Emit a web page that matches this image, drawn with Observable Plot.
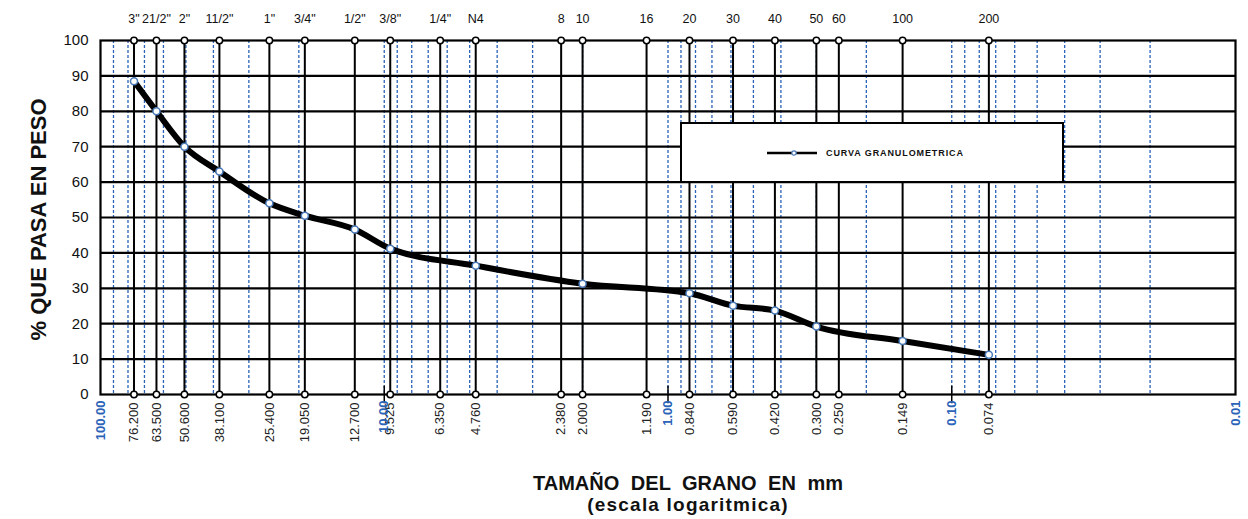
<!DOCTYPE html>
<html>
<head>
<meta charset="utf-8">
<script src="https://cdn.jsdelivr.net/npm/d3@7"></script>
<script src="https://cdn.jsdelivr.net/npm/@observablehq/plot@0.6"></script>
<style>
  html, body { margin: 0; padding: 0; background: #fff; }
  body { width: 1248px; height: 519px; overflow: hidden; font-family: "Liberation Sans", Arial, sans-serif; position: relative; }
  #chart { position: relative; }
  #legend {
    position: absolute; left: 680px; top: 122px; width: 380px; height: 57px;
    border: 2px solid #000; background: #fff; box-sizing: content-box;
  }
  #legend svg { position: absolute; left: 85px; top: 24px; }
  #legend span {
    position: absolute; left: 144px; top: 24px; font-size: 9px; font-weight: bold;
    letter-spacing: 0.9px; color: #111;
  }
  #xtitle { padding-left: 128px; text-align: center; font-weight: bold; color: #111; }
  #xtitle .t1 { font-size: 20px; word-spacing: 6px; line-height: 22px; margin-top: 12px; }
  #xtitle .t2 { font-size: 19px; letter-spacing: 1.2px; line-height: 22px; }
</style>
</head>
<body>
<div id="chart"></div>
<div id="xtitle"><div class="t1">TAMAÑO DEL GRANO EN mm</div><div class="t2">(escala logaritmica)</div></div>
<script>
// Sieve designations and openings (mm)
const sieveNames = ['3"', '21/2"', '2"', '11/2"', '1"', '3/4"', '1/2"', '3/8"', '1/4"', 'N4',
  '8', '10', '16', '20', '30', '40', '50', '60', '100', '200'];
const sieveSizes = [76.2, 63.5, 50.6, 38.1, 25.4, 19.05, 12.7, 9.525, 6.35, 4.76,
  2.38, 2.0, 1.19, 0.84, 0.59, 0.42, 0.30, 0.25, 0.149, 0.074];
const sieveLabels = ["76.200", "63.500", "50.600", "38.100", "25.400", "19.050", "12.700", "9.525", "6.350", "4.760",
  "2.380", "2.000", "1.190", "0.840", "0.590", "0.420", "0.300", "0.250", "0.149", "0.074"];

// Grading curve (size mm, % passing)
const curveSizes = [76.2, 63.5, 50.6, 38.1, 25.4, 19.05, 12.7, 9.525, 4.76, 2.0, 0.84, 0.59, 0.42, 0.30, 0.149, 0.074];
const curvePassing = [88.5, 80, 70, 63, 54, 50.5, 46.6, 41.2, 36.4, 31.3, 28.6, 25.1, 23.7, 19.2, 15.1, 11.2];

// Decade labels (blue)
const decadeValues = [100, 10, 1, 0.1, 0.01];
const decadeLabels = ["100.00", "10.00", "1.00", "0.10", "0.01"];

// Minor log grid values (blue dashed)
const minorGrid = [90, 80, 70, 60, 50, 40, 30, 20, 10, 9, 8, 7, 6, 5, 4, 3, 2, 1,
  0.9, 0.8, 0.7, 0.6, 0.5, 0.4, 0.3, 0.2, 0.1, 0.09, 0.08, 0.07, 0.06, 0.05, 0.04, 0.03, 0.02];

const yTicks = [0, 10, 20, 30, 40, 50, 60, 70, 80, 90, 100];
const yLabel = "% QUE PASA EN PESO";
const legendText = "CURVA GRANULOMETRICA";

const sieves = sieveSizes.map((s, i) => ({size: s, name: sieveNames[i], label: sieveLabels[i]}));
const curve = curveSizes.map((s, i) => ({size: s, pass: curvePassing[i]}));
const decades = decadeValues.map((v, i) => ({v, label: decadeLabels[i]}));

const blue = "#2a63b8";
const vtick = {draw(ctx, size) { const r = Math.sqrt(size); ctx.moveTo(0, -r); ctx.lineTo(0, r); }};

const chart = Plot.plot({
  width: 1248,
  height: 460,
  marginLeft: 100,
  marginRight: 13,
  marginTop: 40,
  marginBottom: 66,
  style: {fontFamily: "Liberation Sans, Arial, sans-serif", background: "#fff", color: "#111"},
  x: {type: "log", domain: [100, 0.01], axis: null},
  y: {domain: [0, 100], axis: null},
  marks: [
    Plot.ruleX(minorGrid, {stroke: blue, strokeWidth: 1.3, strokeDasharray: "3,2"}),
    Plot.ruleY(yTicks.slice(1, -1), {stroke: "#000", strokeWidth: 2.2}),
    Plot.ruleX(sieves, {x: "size", stroke: "#000", strokeWidth: 2}),
    Plot.frame({stroke: "#000", strokeWidth: 2.2}),
    Plot.axisY({ticks: yTicks, tickSize: 0, tickPadding: 12, fontSize: 15, label: null, tickFormat: d => d}),
    Plot.dot(decades.slice(1, -1), {x: "v", frameAnchor: "bottom", symbol: vtick, r: 5, stroke: "#000", strokeWidth: 1.5}),
    Plot.dot(sieves, {x: "size", frameAnchor: "top", r: 3.2, fill: "#fff", stroke: "#000", strokeWidth: 1.5}),
    Plot.dot(sieves, {x: "size", frameAnchor: "bottom", r: 3.2, fill: "#fff", stroke: "#000", strokeWidth: 1.5}),
    Plot.line(curve, {x: "size", y: "pass", stroke: "#000", strokeWidth: 6, curve: "monotone-x", strokeLinejoin: "round"}),
    Plot.dot(curve, {x: "size", y: "pass", r: 3.5, fill: "#fff", stroke: "#4a7ab8", strokeWidth: 1.5}),
    Plot.text(sieves, {x: "size", text: "label", frameAnchor: "bottom", dy: 8, rotate: -90, textAnchor: "end", lineAnchor: "middle", fontSize: 13, fill: "#222"}),
    Plot.text(decades, {x: "v", text: "label", frameAnchor: "bottom", dy: 6, rotate: -90, textAnchor: "end", lineAnchor: "middle", fontSize: 13, fontWeight: "bold", fill: blue}),
    Plot.text(sieves, {x: "size", text: "name", frameAnchor: "top", dy: -22, lineAnchor: "middle", fontSize: 12.5, fill: "#111"}),
    Plot.text([yLabel], {text: d => d, frameAnchor: "left", dx: -62, dy: 2, rotate: -90, textAnchor: "middle", lineAnchor: "middle", fontSize: 22, fontWeight: "bold", fill: "#111", style: "letter-spacing: 0.6px"})
  ]
});
chart.style.display = "block";
document.getElementById("chart").appendChild(chart);

const leg = document.createElement("div");
leg.id = "legend";
leg.innerHTML = `<svg width="52" height="10"><line x1="0" y1="5" x2="50" y2="5" stroke="#000" stroke-width="2.5"/><circle cx="27" cy="5" r="2.2" fill="#fff" stroke="#4a7ab8" stroke-width="1.2"/></svg><span>${legendText}</span>`;
document.getElementById("chart").appendChild(leg);
</script>
</body>
</html>
